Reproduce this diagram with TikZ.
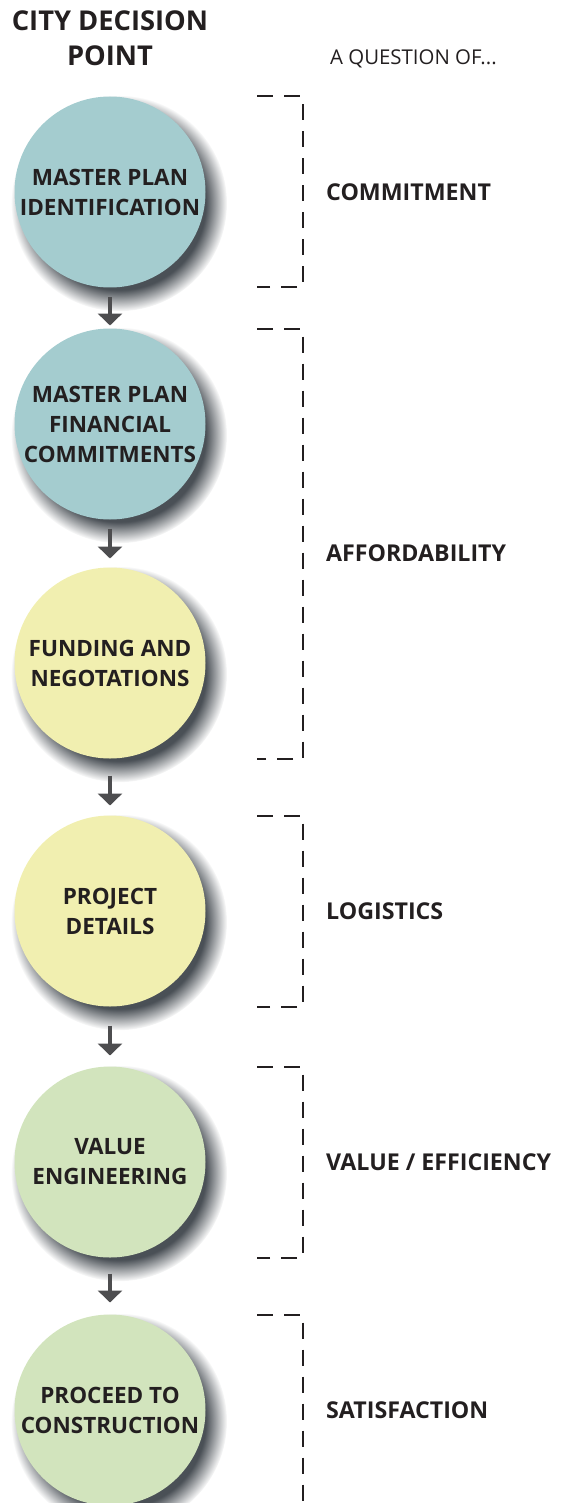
\documentclass[tikz,border=0pt]{standalone}
\usepackage{fontspec}
\setmainfont{Open Sans}
\usetikzlibrary{positioning}
\usetikzlibrary{arrows.meta}
\usetikzlibrary{shadows}
\usetikzlibrary{fadings}
\definecolor{planteal}{HTML}{A4CCCF}
\definecolor{fundyellow}{HTML}{F1EFB0}
\definecolor{valuegreen}{HTML}{D2E4BD}
\definecolor{shadowgray}{HTML}{4A5056}
\definecolor{arrowgray}{HTML}{4D4D4F}
\definecolor{inkblack}{HTML}{231F20}
\begin{document}
\begin{tikzpicture}[x=1pt,y=-1pt,
stage/.style={circle,minimum size=191pt,inner sep=0,outer sep=0,align=center,text=inkblack,
              font=\bfseries\fontsize{22.5}{30}\selectfont,
              general shadow={fill=shadowgray,shadow xshift=8pt,shadow yshift=-10pt,shadow scale=1.13,
                              path fading=circle with fuzzy edge 20 percent}},
step arrow/.style={draw=arrowgray,line width=4pt,-{Triangle[width=24pt,length=12pt]}},
brk/.style={draw=inkblack,line width=2pt,dash pattern=on 16pt off 11pt},
lbl/.style={anchor=west,inner sep=0,text height=16.6pt,text depth=0pt,text=inkblack,
            font=\bfseries\fontsize{23.2}{28}\selectfont}]
\useasboundingbox (0,0) rectangle (560,1503);
%==================
\node[align=center,inner sep=0,text=inkblack,font=\bfseries\fontsize{27.3}{35}\selectfont] (head) at (110,38) {CITY DECISION\\POINT};
\node[lbl,font=\fontsize{20.4}{26}\selectfont,text height=14.6pt] (ask) at (330,57) {A QUESTION OF...};
%==================
\node[stage,fill=planteal] (c1) at (110,192) {MASTER PLAN\\IDENTIFICATION};
\node[stage,fill=planteal,below=41pt of c1] (c2) {MASTER PLAN\\FINANCIAL\\COMMITMENTS};
\node[stage,fill=fundyellow,below=48pt of c2] (c3) {FUNDING AND\\NEGOTATIONS};
\node[stage,fill=fundyellow,below=57pt of c3] (c4) {PROJECT\\DETAILS};
\node[stage,fill=valuegreen,below=60pt of c4] (c5) {VALUE\\ENGINEERING};
\node[stage,fill=valuegreen,below=57pt of c5] (c6) {PROCEED TO\\CONSTRUCTION};
% ===================
\foreach \a/\b/\s/\e in {c1/c2/10/3,c2/c3/9/9,c3/c4/17/10,c4/c5/19/11,c5/c6/16/12}{
\draw[step arrow,shorten <=\s pt,shorten >=\e pt] (\a) -- (\b);
}
% ===================
\coordinate (bl) at (257,0);
\coordinate (bx) at (303,0);
\coordinate (lx) at (326,0);
\draw[brk] (c1.north -| bl) -| (c1.south -| bx) -- (c1.south -| bl);
\draw[brk] (c2.north -| bl) -| (c3.south -| bx) -- (c3.south -| bl);
\draw[brk] (c4.north -| bl) -| (c4.south -| bx) -- (c4.south -| bl);
\draw[brk] (c5.north -| bl) -| (c5.south -| bx) -- (c5.south -| bl);
\draw[brk] (c6.north -| bl) -| (c6.south -| bx);
% ===================
\node[lbl] (commit) at (c1 -| lx) {COMMITMENT};
\node[lbl] (afford) at (326,553) {AFFORDABILITY};
\node[lbl] (logist) at (c4 -| lx) {LOGISTICS};
\node[lbl] (effic) at (c5 -| lx) {VALUE / EFFICIENCY};
\node[lbl] (satisf) at (c6 -| lx) {SATISFACTION};
\end{tikzpicture}
\end{document}
